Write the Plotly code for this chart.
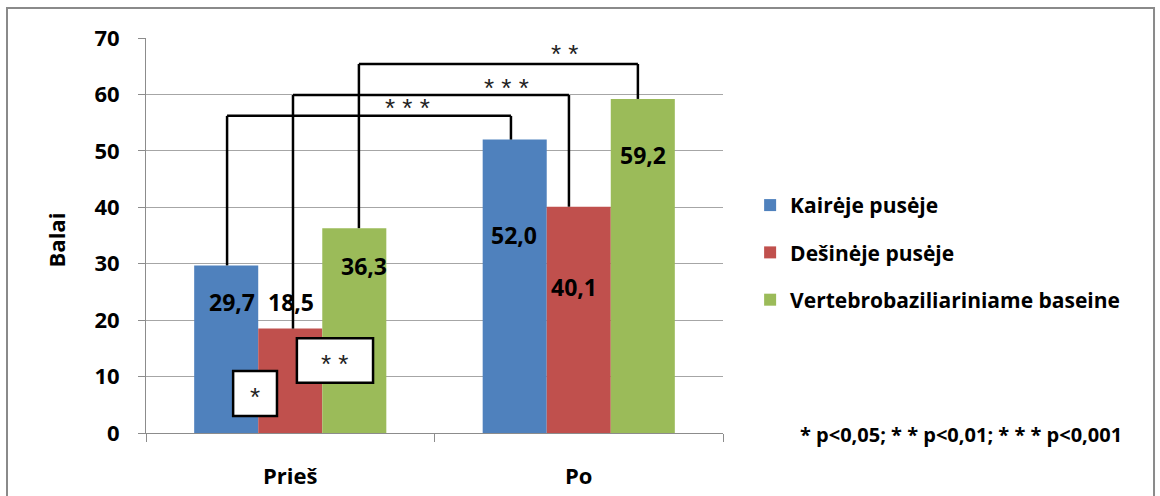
import plotly.graph_objects as go

# --- data -------------------------------------------------------------
categories = ["Prieš", "Po"]
series_names = ["Kairėje pusėje", "Dešinėje pusėje", "Vertebrobaziliariniame baseine"]
kaireje = [29.7, 52.0]
desineje = [18.5, 40.1]
vertebro = [36.3, 59.2]
y_ticks = [0, 10, 20, 30, 40, 50, 60, 70]

# significance brackets between "Prieš" and "Po" for each series
bracket_stars = ["* * *", "* * *", "* *"]
bracket_levels = [56.2, 59.9, 65.4]

# within-"Prieš" significance boxes
box_stars = ["*", "* *"]

footnote = "* p<0,05; * * p<0,01; * * * p<0,001"

# --- layout geometry (category-index units on x) -----------------------
label_x = [[-0.202, 0.777], [0.001, 0.982], [0.254, 1.223]]
label_y = [[23.2, 35.1], [23.2, 25.9], [29.6, 49.3]]
bracket_x = [(-0.219, 0.765), (0.0095, 0.966), (0.238, 1.205)]
bracket_star_pos = [(0.405, 57.6), (0.751, 61.2), (0.949, 67.2)]
box_rects = [(-0.198, -0.046, 3.0, 11.0), (0.023, 0.287, 8.9, 16.8)]

colors = ["#4F81BD", "#C0504D", "#9BBB59"]
FONT = "Open Sans"
series_values = [kaireje, desineje, vertebro]

fig = go.Figure()
for i, (name, vals) in enumerate(zip(series_names, series_values)):
    fig.add_trace(go.Bar(
        x=categories, y=vals, name=name,
        marker=dict(color=colors[i], line=dict(width=0)),
        legendgroup=f"g{i}", hoverinfo="skip",
    ))

annotations = []
shapes = []

# value labels
for i, vals in enumerate(series_values):
    for j, v in enumerate(vals):
        annotations.append(dict(
            x=label_x[i][j], y=label_y[i][j], xref="x", yref="y",
            text=f"{v:.1f}".replace(".", ","), showarrow=False,
            font=dict(family=FONT, size=23, color="#000000", weight="bold"),
        ))

# brackets: vertical up from each bar top, across, and down to the other bar
for i, vals in enumerate(series_values):
    (xl, xr), lvl = bracket_x[i], bracket_levels[i]
    line = dict(color="#000000", width=2.5)
    for (x0, y0, x1, y1) in [(xl, vals[0], xl, lvl), (xl, lvl, xr, lvl), (xr, lvl, xr, vals[1])]:
        shapes.append(dict(type="line", xref="x", yref="y",
                           x0=x0, y0=y0, x1=x1, y1=y1, line=line, layer="above"))
    sx, sy = bracket_star_pos[i]
    annotations.append(dict(
        x=sx, y=sy, xref="x", yref="y", text=bracket_stars[i], showarrow=False,
        font=dict(family="Liberation Sans", size=26, color="#222222"),
    ))

# boxes with stars
for (x0, x1, y0, y1), s in zip(box_rects, box_stars):
    shapes.append(dict(type="rect", xref="x", yref="y", x0=x0, x1=x1, y0=y0, y1=y1,
                       fillcolor="#FFFFFF", line=dict(color="#000000", width=2.5),
                       layer="above"))
    annotations.append(dict(
        x=(x0 + x1) / 2, y=(y0 + y1) / 2 - 0.6, xref="x", yref="y", text=s,
        showarrow=False,
        font=dict(family="Liberation Sans", size=26, color="#222222"),
    ))

# y-axis title
annotations.append(dict(
    x=-0.156, y=0.49, xref="paper", yref="paper", xanchor="center", yanchor="middle",
    text="Balai", textangle=-90, showarrow=False,
    font=dict(family=FONT, size=22, color="#000000", weight="bold"),
))

# footnote
annotations.append(dict(
    x=1.130, y=-0.005, xref="paper", yref="paper", xanchor="left", yanchor="middle",
    text=footnote, showarrow=False,
    font=dict(family=FONT, size=20, color="#000000", weight="bold"),
))

# outer chart border
shapes.append(dict(type="rect", xref="paper", yref="paper",
                   x0=-0.2409, x1=1.747, y0=-0.3, y1=1.076,
                   line=dict(color="#8A8A8A", width=2), fillcolor="rgba(0,0,0,0)",
                   layer="below"))

fig.update_layout(
    width=1160, height=496,
    margin=dict(l=146, r=437, t=38, b=63, autoexpand=False),
    paper_bgcolor="#FFFFFF", plot_bgcolor="#FFFFFF",
    barmode="group", bargap=0.334, bargroupgap=0,
    showlegend=True,
    legend=dict(
        x=1.047, y=0.628, xanchor="left", yanchor="top",
        font=dict(family=FONT, size=21, color="#000000", weight="bold"),
        traceorder="grouped", tracegroupgap=17, itemclick=False,
        bgcolor="rgba(0,0,0,0)",
    ),
    xaxis=dict(
        type="category", showline=True, linecolor="#8C8C8C", linewidth=1,
        ticks="outside", tickson="boundaries", ticklen=8, tickcolor="#8C8C8C",
        ticklabelstandoff=24, showgrid=False, automargin=False,
        tickfont=dict(family=FONT, size=22, color="#000000", weight="bold"),
    ),
    yaxis=dict(
        range=[0, 70], tickvals=y_ticks, showline=True, linecolor="#8C8C8C",
        linewidth=1, ticks="outside", ticklen=7, tickcolor="#8C8C8C",
        showgrid=True, gridcolor="#A6A6A6", gridwidth=1, zeroline=False,
        ticklabelstandoff=14, automargin=False,
        tickfont=dict(family=FONT, size=22, color="#000000", weight="bold"),
    ),
    annotations=annotations,
    shapes=shapes,
)

fig.write_html("out.html")
